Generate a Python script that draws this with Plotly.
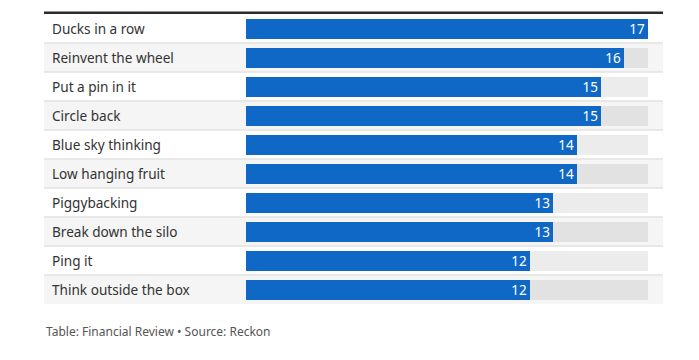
import plotly.graph_objects as go

phrases = ["Ducks in a row", "Reinvent the wheel", "Put a pin in it", "Circle back",
           "Blue sky thinking", "Low hanging fruit", "Piggybacking", "Break down the silo",
           "Ping it", "Think outside the box"]
counts = [17, 16, 15, 15, 14, 14, 13, 13, 12, 12]
max_count = max(counts)
footer = "Table: Financial Review • Source: Reckon"

FONT = "Noto Sans"
BLUE = "#1068c6"

n = len(phrases)
ypos = list(range(n))

# page body has an 8px margin; plot area spans page px 44..663
plot_w = 663 - 44
scale = (648 - 246) / max_count
x0 = -(246 - 44) / scale
x1 = x0 + plot_w / scale

fig = go.Figure()

fig.add_trace(go.Bar(
    y=ypos, x=[max_count] * n, orientation="h", width=0.69,
    marker=dict(color="rgba(0,0,0,0.075)", line=dict(width=0)),
    hoverinfo="skip", showlegend=False,
))
fig.add_trace(go.Bar(
    y=ypos, x=counts, orientation="h", width=0.69,
    marker=dict(color=BLUE, line=dict(width=0)),
    text=[str(c) for c in counts], textposition="inside", insidetextanchor="end",
    textangle=0, constraintext="none",
    textfont=dict(family=FONT, size=13.5, color="white"),
    hoverinfo="skip", showlegend=False,
))

shapes = []
for i in range(n):
    if i % 2 == 1:
        shapes.append(dict(type="rect", xref="paper", yref="y", x0=0, x1=1,
                           y0=i - 0.5, y1=i + 0.5, fillcolor="#f5f5f5",
                           line=dict(width=0), layer="below"))
    if i > 0:
        shapes.append(dict(type="line", xref="paper", yref="y", x0=0, x1=1,
                           y0=i - 0.5, y1=i - 0.5, line=dict(color="#e2e2e2", width=1.5),
                           layer="below"))
shapes.append(dict(type="line", xref="paper", yref="paper", x0=0, x1=1, y0=1.004, y1=1.004,
                   line=dict(color="#2b2b2b", width=2.5)))

annotations = []
for i, p in enumerate(phrases):
    annotations.append(dict(xref="paper", yref="y", x=6 / plot_w, y=i, text=p,
                            showarrow=False, xanchor="left", yanchor="middle",
                            font=dict(family=FONT, size=13.6, color="#333333")))
annotations.append(dict(xref="paper", yref="paper", x=0, y=-0.095, text=footer,
                        showarrow=False, xanchor="left", yanchor="middle",
                        font=dict(family=FONT, size=12, color="#555555")))

fig.update_layout(
    width=699, height=360,
    margin=dict(l=36, r=44, t=6, b=64),
    paper_bgcolor="white", plot_bgcolor="white",
    barmode="overlay", bargap=0,
    xaxis=dict(range=[x0, x1], visible=False, fixedrange=True),
    yaxis=dict(range=[n - 0.5, -0.5], visible=False, fixedrange=True),
    shapes=shapes, annotations=annotations,
)

fig.write_html("out.html")
